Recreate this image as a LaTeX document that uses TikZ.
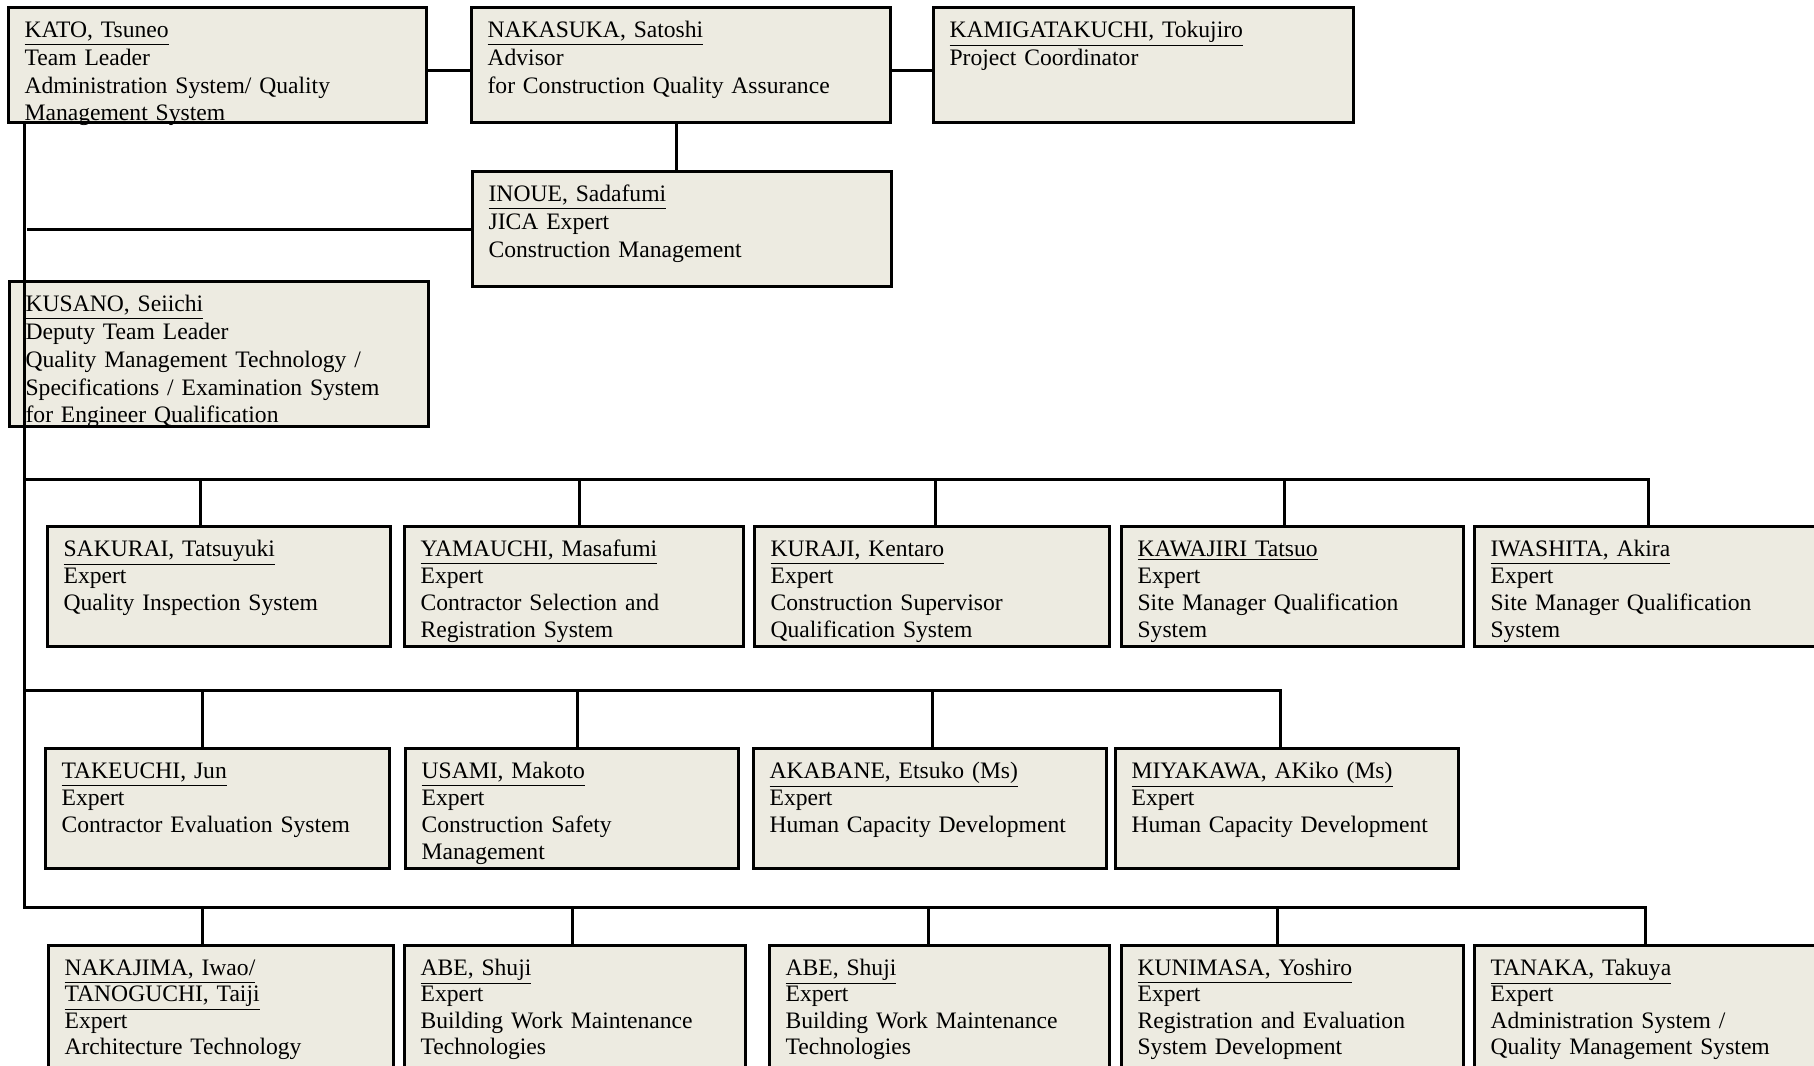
\documentclass[tikz,border=0pt]{standalone}
\usepackage{fontspec}
\setmainfont{Liberation Serif}
\usepackage{xcolor}
\definecolor{BoxFill}{HTML}{EDEBE1}

\begin{document}
\begin{tikzpicture}[x=0.5pt, y=-0.5pt,
  member/.style={draw, line width=1.6pt, fill=BoxFill, anchor=north west,
    align=left, inner xsep=8pt, inner ysep=0pt, text height=15pt,
    font=\fontsize{11.8}{13.9}\selectfont},
  lead/.style={member, text depth=42.5pt},
  staff/.style={member, text depth=45pt, font=\fontsize{11.8}{13.5}\selectfont},
  lowstaff/.style={member, text depth=50pt, font=\fontsize{11.8}{13.1}\selectfont},
  link/.style={line width=1.5pt}]
  \useasboundingbox (0,0) rectangle (1814,1065);
  \clip (0,0) rectangle (1814,1065);

  % Leaders
  \node[lead, text width=193pt] (kato) at (7,6)
    {\underline{KATO, Tsuneo}\\Team Leader\\Administration System/ Quality\\Management System};
  \node[lead, text width=193.5pt] (nakasuka) at (470,6)
    {\underline{NAKASUKA, Satoshi}\\Advisor\\for Construction Quality Assurance};
  \node[lead, text width=194pt] (kamigata) at (932,6)
    {\underline{KAMIGATAKUCHI, Tokujiro}\\Project Coordinator};
  \node[lead, text width=193.5pt] (inoue) at (471,170)
    {\underline{INOUE, Sadafumi}\\JICA Expert\\Construction Management};
  \node[member, text width=193.5pt, text depth=57.5pt] (kusano) at (8,280)
    {\underline{KUSANO, Seiichi}\\Deputy Team Leader\\Quality Management Technology /\\Specifications / Examination System\\for Engineer Qualification};

  % Experts, first row
  \node[staff, text width=155.5pt] (sakurai) at (46,525)
    {\underline{SAKURAI, Tatsuyuki}\\Expert\\Quality Inspection System};
  \node[staff, text width=153.5pt] (yamauchi) at (403,525)
    {\underline{YAMAUCHI, Masafumi}\\Expert\\Contractor Selection and\\Registration System};
  \node[staff, text width=161.5pt] (kuraji) at (753,525)
    {\underline{KURAJI, Kentaro}\\Expert\\Construction Supervisor\\Qualification System};
  \node[staff, text width=155pt] (kawajiri) at (1120,525)
    {\underline{KAWAJIRI Tatsuo}\\Expert\\Site Manager Qualification\\System};
  \node[staff, text width=162.5pt] (iwashita) at (1473,525)
    {\underline{IWASHITA, Akira}\\Expert\\Site Manager Qualification\\System};

  % Experts, second row
  \node[staff, text width=156pt] (takeuchi) at (44,747)
    {\underline{TAKEUCHI, Jun}\\Expert\\Contractor Evaluation System};
  \node[staff, text width=150.5pt] (usami) at (404,747)
    {\underline{USAMI, Makoto}\\Expert\\Construction Safety\\Management};
  \node[staff, text width=160.5pt] (akabane) at (752,747)
    {\underline{AKABANE, Etsuko (Ms)}\\Expert\\Human Capacity Development};
  \node[staff, text width=155.5pt] (miyakawa) at (1114,747)
    {\underline{MIYAKAWA, AKiko (Ms)}\\Expert\\Human Capacity Development};

  % Experts, third row
  \node[lowstaff, text width=156.5pt] (nakajima) at (47,944)
    {\underline{NAKAJIMA, Iwao/}\\\underline{TANOGUCHI, Taiji}\\Expert\\Architecture Technology};
  \node[lowstaff, text width=154.5pt] (abea) at (403,944)
    {\underline{ABE, Shuji}\\Expert\\Building Work Maintenance\\Technologies};
  \node[lowstaff, text width=154pt] (abeb) at (768,944)
    {\underline{ABE, Shuji}\\Expert\\Building Work Maintenance\\Technologies};
  \node[lowstaff, text width=155pt] (kunimasa) at (1120,944)
    {\underline{KUNIMASA, Yoshiro}\\Expert\\Registration and Evaluation\\System Development};
  \node[lowstaff, text width=162.5pt] (tanaka) at (1473,944)
    {\underline{TANAKA, Takuya}\\Expert\\Administration System /\\Quality Management System};

  % Buses
  \coordinate (busA) at (24,479);
  \coordinate (busB) at (24,690);
  \coordinate (busC) at (24,907);

  % Links
  \draw[link] ([yshift=-2.75pt]kato.east) -- ([yshift=-2.75pt]nakasuka.west);
  \draw[link] ([yshift=-2.75pt]nakasuka.east) -- ([yshift=-2.75pt]kamigata.west);
  \draw[link] ([xshift=-2.5pt]nakasuka.south) -- ([xshift=-2.5pt]nakasuka.south |- inoue.north);
  \draw[link] (busA |- kato.south) -- (busC) -| ([xshift=-3.75pt]tanaka.north);
  \draw[link] ([xshift=1.5pt]busA |- inoue.west) -- (inoue.west);
  \draw[link] (busA) -| ([xshift=-2.25pt]iwashita.north);
  \draw[link] (busB) -| ([xshift=-3.25pt]miyakawa.north);
  \foreach \n/\dx in {sakurai/-9.25, yamauchi/2.75, kuraji/1.75, kawajiri/-4}
    \draw[link] ([xshift=\dx pt]\n.north) -- ([xshift=\dx pt]\n.north |- busA);
  \foreach \n/\dx in {takeuchi/-7.5, usami/2.75, akabane/1.25}
    \draw[link] ([xshift=\dx pt]\n.north) -- ([xshift=\dx pt]\n.north |- busB);
  \foreach \n/\dx in {nakajima/-9.25, abea/-1.25, abeb/-5.5, kunimasa/-7.5}
    \draw[link] ([xshift=\dx pt]\n.north) -- ([xshift=\dx pt]\n.north |- busC);
\end{tikzpicture}
\end{document}
